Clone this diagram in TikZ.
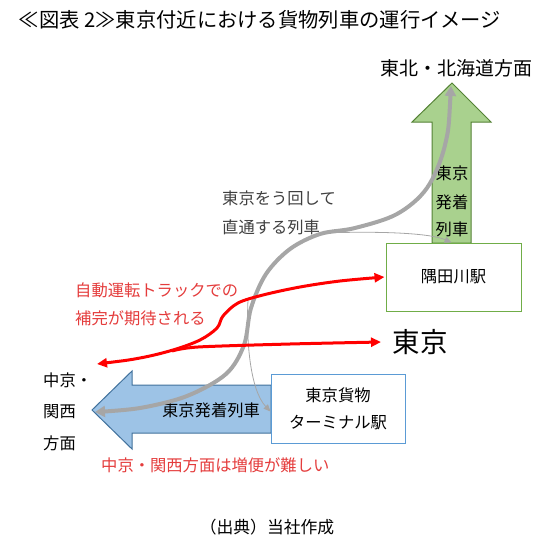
\documentclass[tikz,border=0pt]{standalone}
\usepackage{fontspec}
\setmainfont{Noto Sans CJK JP}
\usetikzlibrary{arrows.meta}
\definecolor{grnfill}{HTML}{A9D18E}
\definecolor{grnline}{HTML}{548235}
\definecolor{boxgrn}{HTML}{70AD47}
\definecolor{blufill}{HTML}{9DC3E6}
\definecolor{bluline}{HTML}{41719C}
\definecolor{boxblu}{HTML}{5B9BD5}
\definecolor{rtxt}{RGB}{228,60,60}
\definecolor{gline}{HTML}{A6A6A6}
\definecolor{gtxt}{HTML}{404040}
\tikzset{
  txt/.style={inner sep=0pt, font=\fontsize{16.3pt}{18pt}\selectfont},
  stationbox/.style={draw, fill=white, line width=1pt, inner sep=0pt, font=\fontsize{16.3pt}{18pt}\selectfont},
  thickgray/.style={draw=gline, line width=4pt, {Triangle[length=10pt,width=11pt]}-{Triangle[length=10pt,width=11pt]}},
  thingray/.style={draw=gline, line width=0.8pt, -{Triangle[length=7pt,width=6pt]}},
  redline/.style={draw=red, line width=3pt}
}
\begin{document}
\begin{tikzpicture}[x=1pt,y=-1pt]
\useasboundingbox (0,0) rectangle (538,544);
% title
\node[inner sep=0pt, font=\fontsize{20.3pt}{22pt}\selectfont] (title) at (260,20) {≪図表 2≫東京付近における貨物列車の運行イメージ};
% green arrow
\draw[fill=grnfill, draw=grnline, line width=1pt] (432,243) -- (432,122) -- (412,122) -- (452,83) -- (491,122) -- (471,122) -- (471,243) -- cycle;
\node[txt] (g1) at (452,173) {東京};
\node[txt] (g2) at (452,202) {発着};
\node[txt] (g3) at (452,229) {列車};
\node[inner sep=0pt, font=\fontsize{19pt}{21pt}\selectfont] (north) at (456,68) {東北・北海道方面};
% blue arrow
\draw[fill=blufill, draw=bluline, line width=1pt] (271,385) -- (132,385) -- (132,371) -- (92,410) -- (132,449) -- (132,433) -- (271,433) -- cycle;
\node[txt] (b1) at (211,410) {東京発着列車};
% boxes
\node[stationbox, draw=boxgrn, minimum width=135pt, minimum height=68pt] (sumida) at (453.5,277) {隅田川駅};
\node[stationbox, draw=boxblu, minimum width=134pt, minimum height=69pt, align=center] (terminal) at (338,408.5) {};
\node[txt] (t1) at (338,395) {東京貨物};
\node[txt] (t2) at (338,423) {ターミナル駅};
% texts
\node[txt, anchor=west, text=gtxt] (gt1) at (222,198) {東京をう回して};
\node[txt, anchor=west, text=gtxt] (gt2) at (222,227) {直通する列車};
\node[txt, anchor=west, text=rtxt] (r1) at (75,290) {自動運転トラックでの};
\node[txt, anchor=west, text=rtxt] (r2) at (75,318) {補完が期待される};
\node[inner sep=0pt, font=\fontsize{27.5pt}{30pt}\selectfont] (tokyo) at (420,342) {東京};
\node[txt, anchor=west] (c1) at (43,380) {中京・};
\node[txt, anchor=west] (c2) at (43,412) {関西};
\node[txt, anchor=west] (c3) at (43,443) {方面};
\node[txt, anchor=west, text=rtxt] (r3) at (101,465) {中京・関西方面は増便が難しい};
\node[inner sep=0pt, font=\fontsize{16.8pt}{18pt}\selectfont] (src) at (267,527) {（出典）当社作成};
% gray curves
\coordinate (gtop) at (451,86);
\coordinate (gleft) at (95,412);
\coordinate (gb1) at (322,233);
\coordinate (gb2) at (248,300);
\draw[thingray] (gb1) .. controls (380,231) and (430,233) .. ([xshift=-2pt]sumida.north);
\draw[thingray] (gb2) .. controls (246,340) and (250,390) .. ([yshift=-3pt]terminal.west);
\draw[thickgray] plot[smooth, tension=0.55] coordinates {(gtop) (445,145) (427,188) (397,214) (355,228) (320,234) (290,249) (266,274) (251,308) (244,345) (226,374) (187,396) (140,408) (gleft)};
% red curves
\coordinate (rleft) at (97,364);
\coordinate (rmerge) at (172,351);
\draw[redline, {Triangle[length=10pt,width=9pt]}-{Triangle[length=10pt,width=9pt]}] plot[smooth, tension=0.55] coordinates {(rleft) (140,358) (173,350) (200,340) (217,328) (223,316) (238,303) (263,295) (300,287) (340,281) ([xshift=-1pt]sumida.west)};
\draw[redline, -{Triangle[length=10pt,width=9pt]}] plot[smooth, tension=0.5] coordinates {(rmerge) (198,347) (290,344) (381,342)};
\coordinate (rend) at (381,342);
\end{tikzpicture}
\end{document}
